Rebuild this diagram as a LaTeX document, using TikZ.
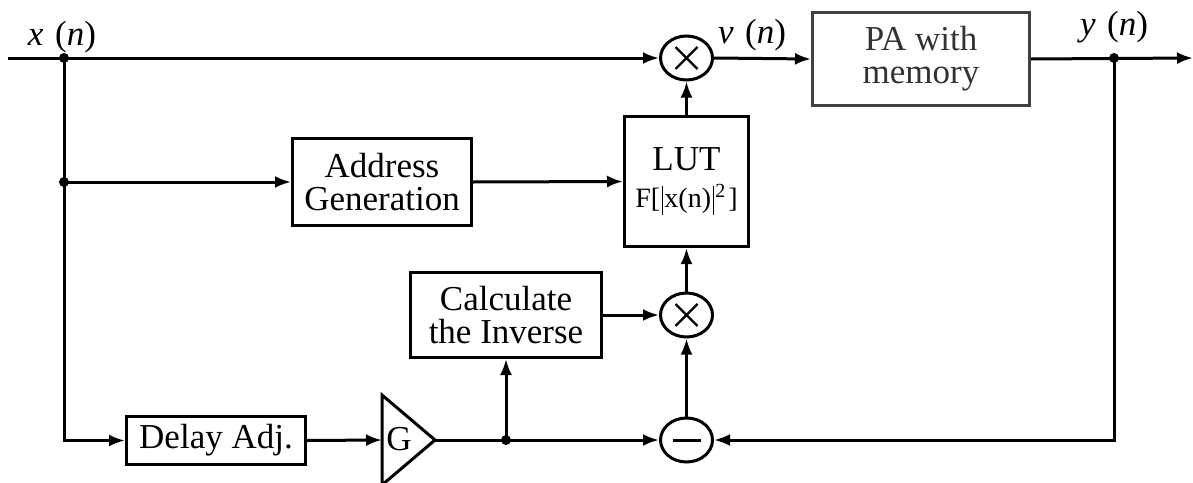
\documentclass[tikz,border=0pt]{standalone}
\usepackage{fontspec}
\setmainfont{Liberation Serif}
\usetikzlibrary{arrows.meta,shapes.geometric}
\newcommand{\vbar}{\hspace{1.5pt}\rule[-7pt]{1.3pt}{29pt}\hspace{1.5pt}}
\begin{document}
\begin{tikzpicture}[x=1pt, y=-1pt, line width=3pt,
    font=\fontsize{35}{33}\selectfont,
    >={Latex[length=16pt,width=12pt]},
    blk/.style={draw, inner sep=0pt, minimum width=#1, align=center},
    mix/.style={draw, ellipse, minimum width=52pt, minimum height=44pt, inner sep=0pt},
    times/.style={mix, path picture={
        \draw[line width=2.4pt] ([shift={(-11pt,-11pt)}]path picture bounding box.center) -- ++(22pt,22pt)
          ([shift={(-11pt,11pt)}]path picture bounding box.center) -- ++(22pt,-22pt);}},
    minus/.style={mix, path picture={
        \draw[line width=3pt] ([xshift=-14pt]path picture bounding box.center) -- ++(28pt,0);}},
    dot/.style={circle, fill, inner sep=0pt, minimum size=10pt}]
  \useasboundingbox (0,0) rectangle (1193,482);
  % blocks
  \node[blk=179pt, minimum height=87pt] (adr) at (382,182) {Address\\Generation};
  \node[blk=124pt, minimum height=130pt] (lut) at (686.5,181.5)
    {LUT\\[4pt]{\fontsize{28}{28}\selectfont F[\vbar x(n)\vbar\raisebox{10pt}{\fontsize{20}{20}\selectfont 2}\hspace{3pt}]}};
  \node[blk=217pt, minimum height=93pt, draw=black!75, text=black!80] (pa) at (921,59) {PA with\\memory};
  \node[blk=191pt, minimum height=85pt] (calc) at (506,315) {Calculate\\the Inverse};
  \node[blk=179pt, minimum height=48pt] (delay) at (216,440.5) {Delay Adj.};
  \node[times] (mtop) at (686.5,58) {};
  \node[times] (mmid) at (686.5,315) {};
  \node[minus] (sub) at (686.5,440) {};
  % gain
  \draw (382,395) -- (435,440) -- (382,485) -- cycle;
  \node (gain) at (399,439) {G};
  \coordinate (gin) at (382,440);
  \coordinate (gout) at (435,440);
  % taps
  \coordinate (in) at (8,58);
  \node[dot] (xtap) at (64,58) {};
  \node[dot] (atap) at (64,182) {};
  \node[dot] (ytap) at (1114,58) {};
  \node[dot] (gtap) at (506,440) {};
  \coordinate (out) at (1193,58);
  % labels
  \node (xlbl) at (62,37) {\itshape x\,\,\upshape(\itshape n\upshape)};
  \node (vlbl) at (752,35) {\itshape v\,\,\upshape(\itshape n\upshape)};
  \node (ylbl) at (1114,27) {\itshape y\,\,\upshape(\itshape n\upshape)};
  % connectors
  \draw (in) -- (xtap.center);
  \draw[->] (xtap.center) -- (mtop.west);
  \draw[->] (mtop.east) -- (pa.west);
  \draw[->] (pa.east) -- (out);
  \draw (xtap.center) -- (atap.center);
  \draw[->] (atap.center) -- (adr.west);
  \draw[->] (atap.center) |- (delay.west);
  \draw[->] (adr.east) -- (lut.west);
  \draw[->] (lut.north) -- (mtop.south);
  \draw[->] (delay.east) -- (gin);
  \draw (gout) -- (gtap.center);
  \draw[->] (gtap.center) -- (calc.south);
  \draw[->] (gtap.center) -- (sub.west);
  \draw[->] (calc.east) -- (mmid.west);
  \draw[->] (sub.north) -- (mmid.south);
  \draw[->] (mmid.north) -- (lut.south);
  \draw[->] (ytap.center) |- (sub.east);
\end{tikzpicture}
\end{document}
